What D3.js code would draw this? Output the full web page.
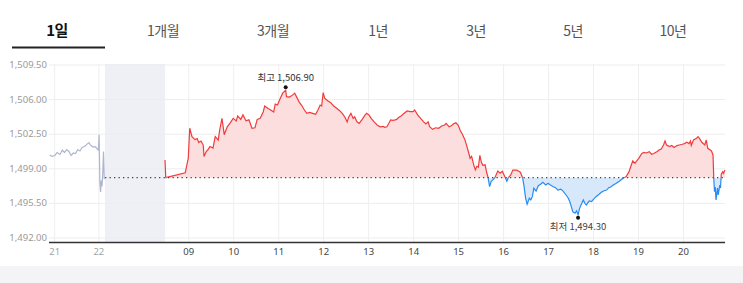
<!DOCTYPE html>
<html><head><meta charset="utf-8">
<script src="https://cdn.jsdelivr.net/npm/d3@7"></script>
<style>
html,body{margin:0;padding:0;background:#fff;}
svg{display:block;}
</style></head>
<body>
<svg id="c" width="743" height="283"></svg>
<script>
// ---- data ----
const tabs = ["1일","1개월","3개월","1년","3년","5년","10년"];
const prevClose = 1498.05;
const yTicks = [1492.0, 1495.5, 1499.0, 1502.5, 1506.0, 1509.5];
const xTickTimes = ["p21:00","p22:00","09:00","10:00","11:00","12:00","13:00","14:00","15:00","16:00","17:00","18:00","19:00","20:00"];
const xTickLabels = ["21","22","09","10","11","12","13","14","15","16","17","18","19","20"];
const highLabel = "최고 1,506.90", highValue = 1506.90, highTime = "11:10";
const lowLabel = "최저 1,494.30", lowValue = 1494.30, lowTime = "17:40";

const prevTimes = ["20:54","20:57","21:01","21:04","21:08","21:11","21:14","21:17","21:20","21:23","21:26","21:29","21:32","21:35","21:38","21:41","21:44","21:47","21:50","21:53","21:56","21:59","22:00","22:01","22:02","22:03","22:04","22:05","22:06","22:07","22:08"];
const prevValues = [1500.35,1500.2,1500.3,1500.6,1500.4,1500.85,1500.6,1500.9,1500.7,1500.3,1500.55,1500.5,1500.9,1500.75,1501.1,1501.2,1501.4,1501.6,1501.3,1501.15,1501.2,1500.9,1500.85,1502.4,1497.6,1496.6,1497.8,1497.2,1498.6,1500.7,1497.9];

const todayTimes = ["08:29","08:30","08:56","09:00","09:02","09:05","09:09","09:12","09:14","09:17","09:20","09:21","09:24","09:26","09:29","09:33","09:36","09:40","09:42","09:45","09:48","09:52","09:56","10:00","10:04","10:06","10:10","10:13","10:17","10:21","10:25","10:29","10:32","10:36","10:40","10:42","10:46","10:50","10:54","10:56","10:59","11:03","11:06","11:10","11:11","11:15","11:19","11:22","11:24","11:28","11:31","11:35","11:38","11:42","11:46","11:50","11:53","11:56","11:58","12:00","12:02","12:06","12:10","12:14","12:18","12:22","12:26","12:29","12:32","12:34","12:37","12:40","12:42","12:45","12:48","12:52","12:56","12:58","13:01","13:04","13:08","13:12","13:16","13:20","13:22","13:25","13:28","13:30","13:33","13:36","13:38","13:41","13:44","13:48","13:52","13:56","14:00","14:02","14:06","14:10","14:14","14:17","14:20","14:22","14:26","14:30","14:34","14:38","14:42","14:44","14:48","14:51","14:54","14:57","15:00","15:03","15:06","15:09","15:11","15:14","15:16","15:18","15:21","15:23","15:25","15:27","15:29","15:31","15:33","15:36","15:38","15:40","15:42","15:44","15:46","15:49","15:53","15:56","15:59","16:02","16:05","16:07","16:10","16:13","16:18","16:23","16:26","16:28","16:30","16:32","16:35","16:37","16:39","16:41","16:44","16:47","16:50","16:53","16:57","17:00","17:03","17:07","17:10","17:13","17:17","17:20","17:24","17:27","17:29","17:31","17:33","17:36","17:38","17:40","17:42","17:45","17:47","17:49","17:51","17:55","17:58","18:01","18:04","18:08","18:11","18:14","18:18","18:21","18:24","18:27","18:31","18:35","18:40","18:44","18:48","18:51","18:53","18:56","18:58","19:01","19:05","19:08","19:11","19:15","19:18","19:21","19:25","19:28","19:31","19:34","19:36","19:38","19:42","19:45","19:48","19:52","19:55","19:59","20:02","20:05","20:08","20:10","20:11","20:14","20:18","20:20","20:22","20:25","20:29","20:31","20:33","20:38","20:40","20:41","20:42","20:43","20:44","20:46","20:47","20:49","20:50","20:51","20:53","20:54","20:56"];
const todayValues = [1499.84,1498.05,1498.55,1500.0,1503.05,1502.2,1501.9,1502.0,1501.6,1501.75,1501.35,1500.2,1500.7,1500.85,1501.2,1501.05,1502.2,1501.85,1502.9,1504.05,1502.4,1503.2,1503.6,1504.05,1503.8,1504.3,1503.95,1504.4,1503.8,1503.9,1503.05,1503.1,1503.95,1504.05,1504.7,1505.3,1505.07,1504.9,1504.7,1505.5,1505.4,1506.1,1506.6,1506.9,1506.25,1506.2,1506.4,1506.6,1506.3,1505.7,1505.4,1504.9,1504.56,1504.66,1504.56,1504.46,1504.9,1505.4,1505.3,1506.65,1506.1,1505.84,1505.64,1505.3,1505.07,1504.83,1504.5,1504.16,1503.7,1504.16,1504.56,1504.05,1504.2,1503.7,1503.55,1503.95,1504.4,1504.56,1504.4,1504.05,1503.7,1503.38,1503.2,1503.25,1503.15,1503.2,1503.6,1503.9,1503.85,1503.9,1503.95,1504.16,1504.3,1504.56,1504.8,1504.73,1504.73,1504.9,1504.4,1504.05,1503.7,1503.48,1503.7,1503.2,1502.94,1503.1,1503.05,1503.28,1503.38,1503.55,1503.2,1503.3,1503.5,1503.6,1503.38,1502.8,1502.4,1501.9,1501.4,1500.6,1500.0,1500.2,1499.3,1498.85,1499.2,1499.1,1500.3,1499.6,1499.3,1499.35,1498.6,1498.05,1497.14,1497.65,1497.8,1498.05,1498.73,1498.5,1498.7,1498.2,1497.7,1498.05,1498.3,1498.82,1498.82,1498.6,1498.05,1497.14,1495.97,1495.36,1495.97,1495.8,1496.13,1496.98,1496.7,1497.24,1497.38,1497.58,1497.31,1497.48,1497.31,1497.14,1497.04,1496.8,1496.9,1496.7,1496.3,1495.97,1495.62,1495.12,1494.6,1494.45,1494.7,1494.3,1494.95,1495.46,1495.8,1495.46,1495.29,1495.7,1495.63,1495.9,1496.13,1496.37,1496.57,1496.7,1496.8,1497.04,1497.14,1497.31,1497.48,1497.7,1498.0,1498.15,1498.66,1499.33,1499.74,1499.5,1499.74,1500.0,1500.5,1500.6,1500.55,1500.68,1500.42,1500.5,1500.68,1500.85,1500.95,1501.36,1501.76,1501.36,1501.2,1501.3,1501.1,1501.3,1501.36,1501.43,1501.5,1501.63,1501.5,1501.76,1501.3,1501.86,1502.03,1502.2,1502.03,1501.63,1501.36,1501.86,1501.02,1500.75,1500.35,1498.0,1496.63,1497.1,1495.8,1497.0,1496.3,1497.3,1497.0,1498.4,1498.66,1498.5,1498.83];

// ---- helpers ----
// minutes since 20:00 of previous day; "p" prefix = previous day
function tmin(s){
  const prev = s[0]==="p"; const t = prev? s.slice(1): s;
  const [h,m] = t.split(":").map(Number);
  return prev ? (h-20)*60+m : (h+4)*60+m;
}
function tminPrev(s){ const [h,m]=s.split(":").map(Number); return (h-20)*60+m; }

const svg = d3.select("#c");
const L = 49, R = 725, T = 64.5, B = 237.5, AX = 242.5;

// tabs
const tabX = [57,163,273,378,476,573,673];
svg.selectAll("text.tab").data(tabs).join("text")
  .attr("class","tab")
  .attr("x",(d,i)=>tabX[i]).attr("y",35.5)
  .attr("text-anchor","middle")
  .attr("font-family","'Noto Sans CJK KR','Noto Sans',sans-serif")
  .attr("font-size",(d,i)=>i===0?15:14)
  .attr("font-weight",(d,i)=>i===0?700:400)
  .attr("fill",(d,i)=>i===0?"#111":"#555")
  .attr("letter-spacing",-0.5)
  .text(d=>d);
svg.append("rect").attr("x",12).attr("y",46.5).attr("width",93).attr("height",2).attr("fill","#222");

// bottom band
svg.append("rect").attr("x",0).attr("y",266).attr("width",743).attr("height",17).attr("fill","#f4f4f6");

// scales
const x = d3.scaleLinear()
  .domain([tminPrev("20:53"), tminPrev("22:09"), tmin("08:29"), tmin("20:56")])
  .range([L, 105, 165, R]);
const y = d3.scaleLinear().domain([1492, 1509.5]).range([B, T]);

// break band
svg.append("rect").attr("x",x(tminPrev("22:09"))).attr("y",T-0.5)
  .attr("width",x(tmin("08:29"))-x(tminPrev("22:09"))).attr("height",AX-T)
  .attr("fill","#eef0f6");

// grid
const yAxisG = svg.append("g").attr("transform",`translate(${L},0)`)
  .call(d3.axisLeft(y).tickValues(yTicks).tickSize(-(R-L)).tickFormat(d3.format(",.2f")));
yAxisG.select(".domain").remove();
yAxisG.selectAll(".tick line").attr("stroke","#ededed");
yAxisG.selectAll(".tick text").attr("x",-2).attr("fill","#9a9a9a")
  .attr("font-family","'Noto Sans',sans-serif").attr("font-size",9.5);

const xTickVals = xTickTimes.map(tmin);
const xAxisG = svg.append("g").attr("transform",`translate(0,${AX})`)
  .call(d3.axisBottom(x).tickValues(xTickVals).tickSize(-(AX-T+0.5)).tickPadding(6)
    .tickFormat((d,i)=>xTickLabels[i]));
xAxisG.select(".domain").remove();
xAxisG.selectAll(".tick line").attr("stroke","#efefef");
xAxisG.selectAll(".tick text")
  .attr("fill",(d,i)=>i<2?"#a5a5a5":"#444")
  .attr("font-family","'Noto Sans',sans-serif").attr("font-size",9.5);
svg.append("line").attr("x1",L).attr("x2",R).attr("y1",AX).attr("y2",AX)
  .attr("stroke","#333").attr("stroke-width",1.3);

// prev-day line
const prevData = prevTimes.map((t,i)=>({x:tminPrev(t), v:prevValues[i]}));
const line = d3.line().x(d=>x(d.x)).y(d=>y(d.v));
svg.append("path").datum(prevData).attr("d",line)
  .attr("fill","none").attr("stroke","#aeb5d0").attr("stroke-width",1.2);

// today
const today = todayTimes.map((t,i)=>({x:tmin(t), v:todayValues[i]}));
const by = y(prevClose);
const defs = svg.append("defs");
defs.append("clipPath").attr("id","above").append("rect")
  .attr("x",0).attr("y",0).attr("width",743).attr("height",by);
defs.append("clipPath").attr("id","below").append("rect")
  .attr("x",0).attr("y",by).attr("width",743).attr("height",283-by);
const area = d3.area().x(d=>x(d.x)).y0(by).y1(d=>y(d.v));
svg.append("path").datum(today).attr("d",area).attr("fill","#fcdede").attr("clip-path","url(#above)");
svg.append("path").datum(today).attr("d",area).attr("fill","#d8e8fb").attr("clip-path","url(#below)");
svg.append("path").datum(today).attr("d",line).attr("fill","none")
  .attr("stroke","#f03c3c").attr("stroke-width",1.2).attr("clip-path","url(#above)");
svg.append("path").datum(today).attr("d",line).attr("fill","none")
  .attr("stroke","#2a8af2").attr("stroke-width",1.2).attr("clip-path","url(#below)");

// baseline dotted
svg.append("line").attr("x1",x(tminPrev("22:09"))).attr("x2",R).attr("y1",by).attr("y2",by)
  .attr("stroke","#444").attr("stroke-width",1.2).attr("stroke-dasharray","1.3,3.2");

// high / low markers
const hx = x(tmin(highTime)), hy = y(highValue);
svg.append("circle").attr("cx",hx).attr("cy",hy-3).attr("r",2).attr("fill","#111");
svg.append("text").attr("x",hx).attr("y",hy-9).attr("text-anchor","middle")
  .attr("font-family","'Noto Sans CJK KR','Noto Sans',sans-serif").attr("font-size",9.5)
  .attr("fill","#333").text(highLabel);
const lx = x(tmin(lowTime)), ly = y(lowValue);
svg.append("circle").attr("cx",lx).attr("cy",ly+3).attr("r",2).attr("fill","#111");
svg.append("text").attr("x",lx).attr("y",ly+15).attr("text-anchor","middle")
  .attr("font-family","'Noto Sans CJK KR','Noto Sans',sans-serif").attr("font-size",9.5)
  .attr("fill","#444").text(lowLabel);
</script>
</body></html>
